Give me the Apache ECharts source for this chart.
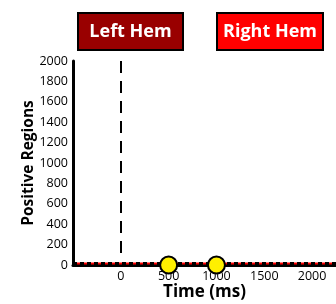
<!DOCTYPE html>
<html><head><meta charset="utf-8">
<script src="https://cdn.jsdelivr.net/npm/echarts@6/dist/echarts.min.js"></script>
<style>html,body{margin:0;padding:0;background:#fff}#c{width:336px;height:304px}</style>
</head><body><div id="c"></div>
<script>
const legendNames = ["Left Hem", "Right Hem"];
const yTicks = [0, 200, 400, 600, 800, 1000, 1200, 1400, 1600, 1800, 2000];
const xTickLabels = [0, 500, 1000, 1500, 2000];
const times = [-500,-450,-400,-350,-300,-250,-200,-150,-100,-50,0,50,100,150,200,250,300,350,400,450,500,550,600,650,700,750,800,850,900,950,1000,1050,1100,1150,1200,1250,1300,1350,1400,1450,1500,1550,1600,1650,1700,1750,1800,1850,1900,1950,2000,2050,2100,2150,2200,2250];
const leftValues = [15,15,15,15,15,15,15,15,15,15,15,15,15,15,15,15,15,15,15,15,15,15,15,15,15,15,15,15,15,15,15,15,15,15,15,15,15,15,15,15,15,15,15,15,15,15,15,15,15,15,15,15,15,15,15,15];
const rightValues = [15,15,15,15,15,15,15,15,15,15,15,15,15,15,15,15,15,15,15,15,15,15,15,15,15,15,15,15,15,15,15,15,15,15,15,15,15,15,15,15,15,15,15,15,15,15,15,15,15,15,15,15,15,15,15,15];
const onsetTime = 0;
const onsetRange = [80, 2000];
const markerTimes = [500, 1000];
const markerValues = [0, 0];

const font = "'Open Sans', 'Noto Sans', sans-serif";
const chart = echarts.init(document.getElementById('c'), null, {renderer: 'canvas'});
chart.setOption({
  animation: false,
  grid: {left: 73, top: 61, right: 0, bottom: 39, containLabel: false, outerBoundsMode: 'none'},
  xAxis: {
    type: 'value', min: -500, max: 2250, interval: 500,
    name: 'Time (ms)', nameLocation: 'middle', nameGap: 19, nameMoveOverlap: false,
    nameTextStyle: {fontFamily: font, fontWeight: 'bold', fontSize: 17, color: '#000'},
    axisLine: {show: true, onZero: false, lineStyle: {color: '#000', width: 3}},
    axisTick: {show: false},
    splitLine: {show: false},
    axisLabel: {
      fontFamily: font, fontSize: 12.5, color: '#000', margin: 5,
      showMaxLabel: false,
      formatter: v => xTickLabels.indexOf(v) >= 0 ? String(v) : ''
    }
  },
  yAxis: {
    type: 'value', min: 0, max: 2000, interval: 200,
    name: 'Positive Regions', nameLocation: 'middle', nameGap: 36, nameMoveOverlap: false,
    nameTextStyle: {fontFamily: font, fontWeight: 'bold', fontSize: 15.5, color: '#000'},
    axisLine: {show: true, onZero: false, lineStyle: {color: '#000', width: 3}},
    axisTick: {show: false},
    splitLine: {show: false},
    axisLabel: {fontFamily: font, fontSize: 12.5, color: '#000', margin: 5,
      formatter: v => yTicks.indexOf(v) >= 0 ? String(v) : ''}
  },
  series: [
    {type: 'line', name: legendNames[1], data: times.map((t, i) => [t, rightValues[i]]),
     showSymbol: false, lineStyle: {color: '#ff0000', width: 2}, z: 3},
    {type: 'line', name: legendNames[0], data: times.map((t, i) => [t, leftValues[i]]),
     showSymbol: false, lineStyle: {color: '#000', width: 3, type: [4, 3]}, z: 4,
     markLine: {
       silent: true, symbol: 'none', label: {show: false},
       lineStyle: {color: '#000', width: 2, type: [12, 8]},
       data: [[{coord: [onsetTime, onsetRange[1]]}, {coord: [onsetTime, onsetRange[0]]}]]
     }},
    {type: 'scatter', data: markerTimes.map((t, i) => [t, markerValues[i]]),
     symbolSize: 17, itemStyle: {color: '#fff000', borderColor: '#000', borderWidth: 2, opacity: 1}, z: 5}
  ],
  graphic: [
    {type: 'group', left: 77, top: 12, children: [
      {type: 'rect', shape: {x: 0, y: 0, width: 105, height: 37}, style: {fill: '#990000', stroke: '#000', lineWidth: 2}},
      {type: 'text', x: 52.5, y: 19, style: {text: legendNames[0], fill: '#fff', font: "bold 18px 'Open Sans', sans-serif", align: 'center', verticalAlign: 'middle'}}
    ]},
    {type: 'group', left: 216, top: 12, children: [
      {type: 'rect', shape: {x: 0, y: 0, width: 106, height: 37}, style: {fill: '#ff0000', stroke: '#000', lineWidth: 2}},
      {type: 'text', x: 53, y: 19, style: {text: legendNames[1], fill: '#fff', font: "bold 18px 'Open Sans', sans-serif", align: 'center', verticalAlign: 'middle'}}
    ]}
  ]
});
</script></body></html>
